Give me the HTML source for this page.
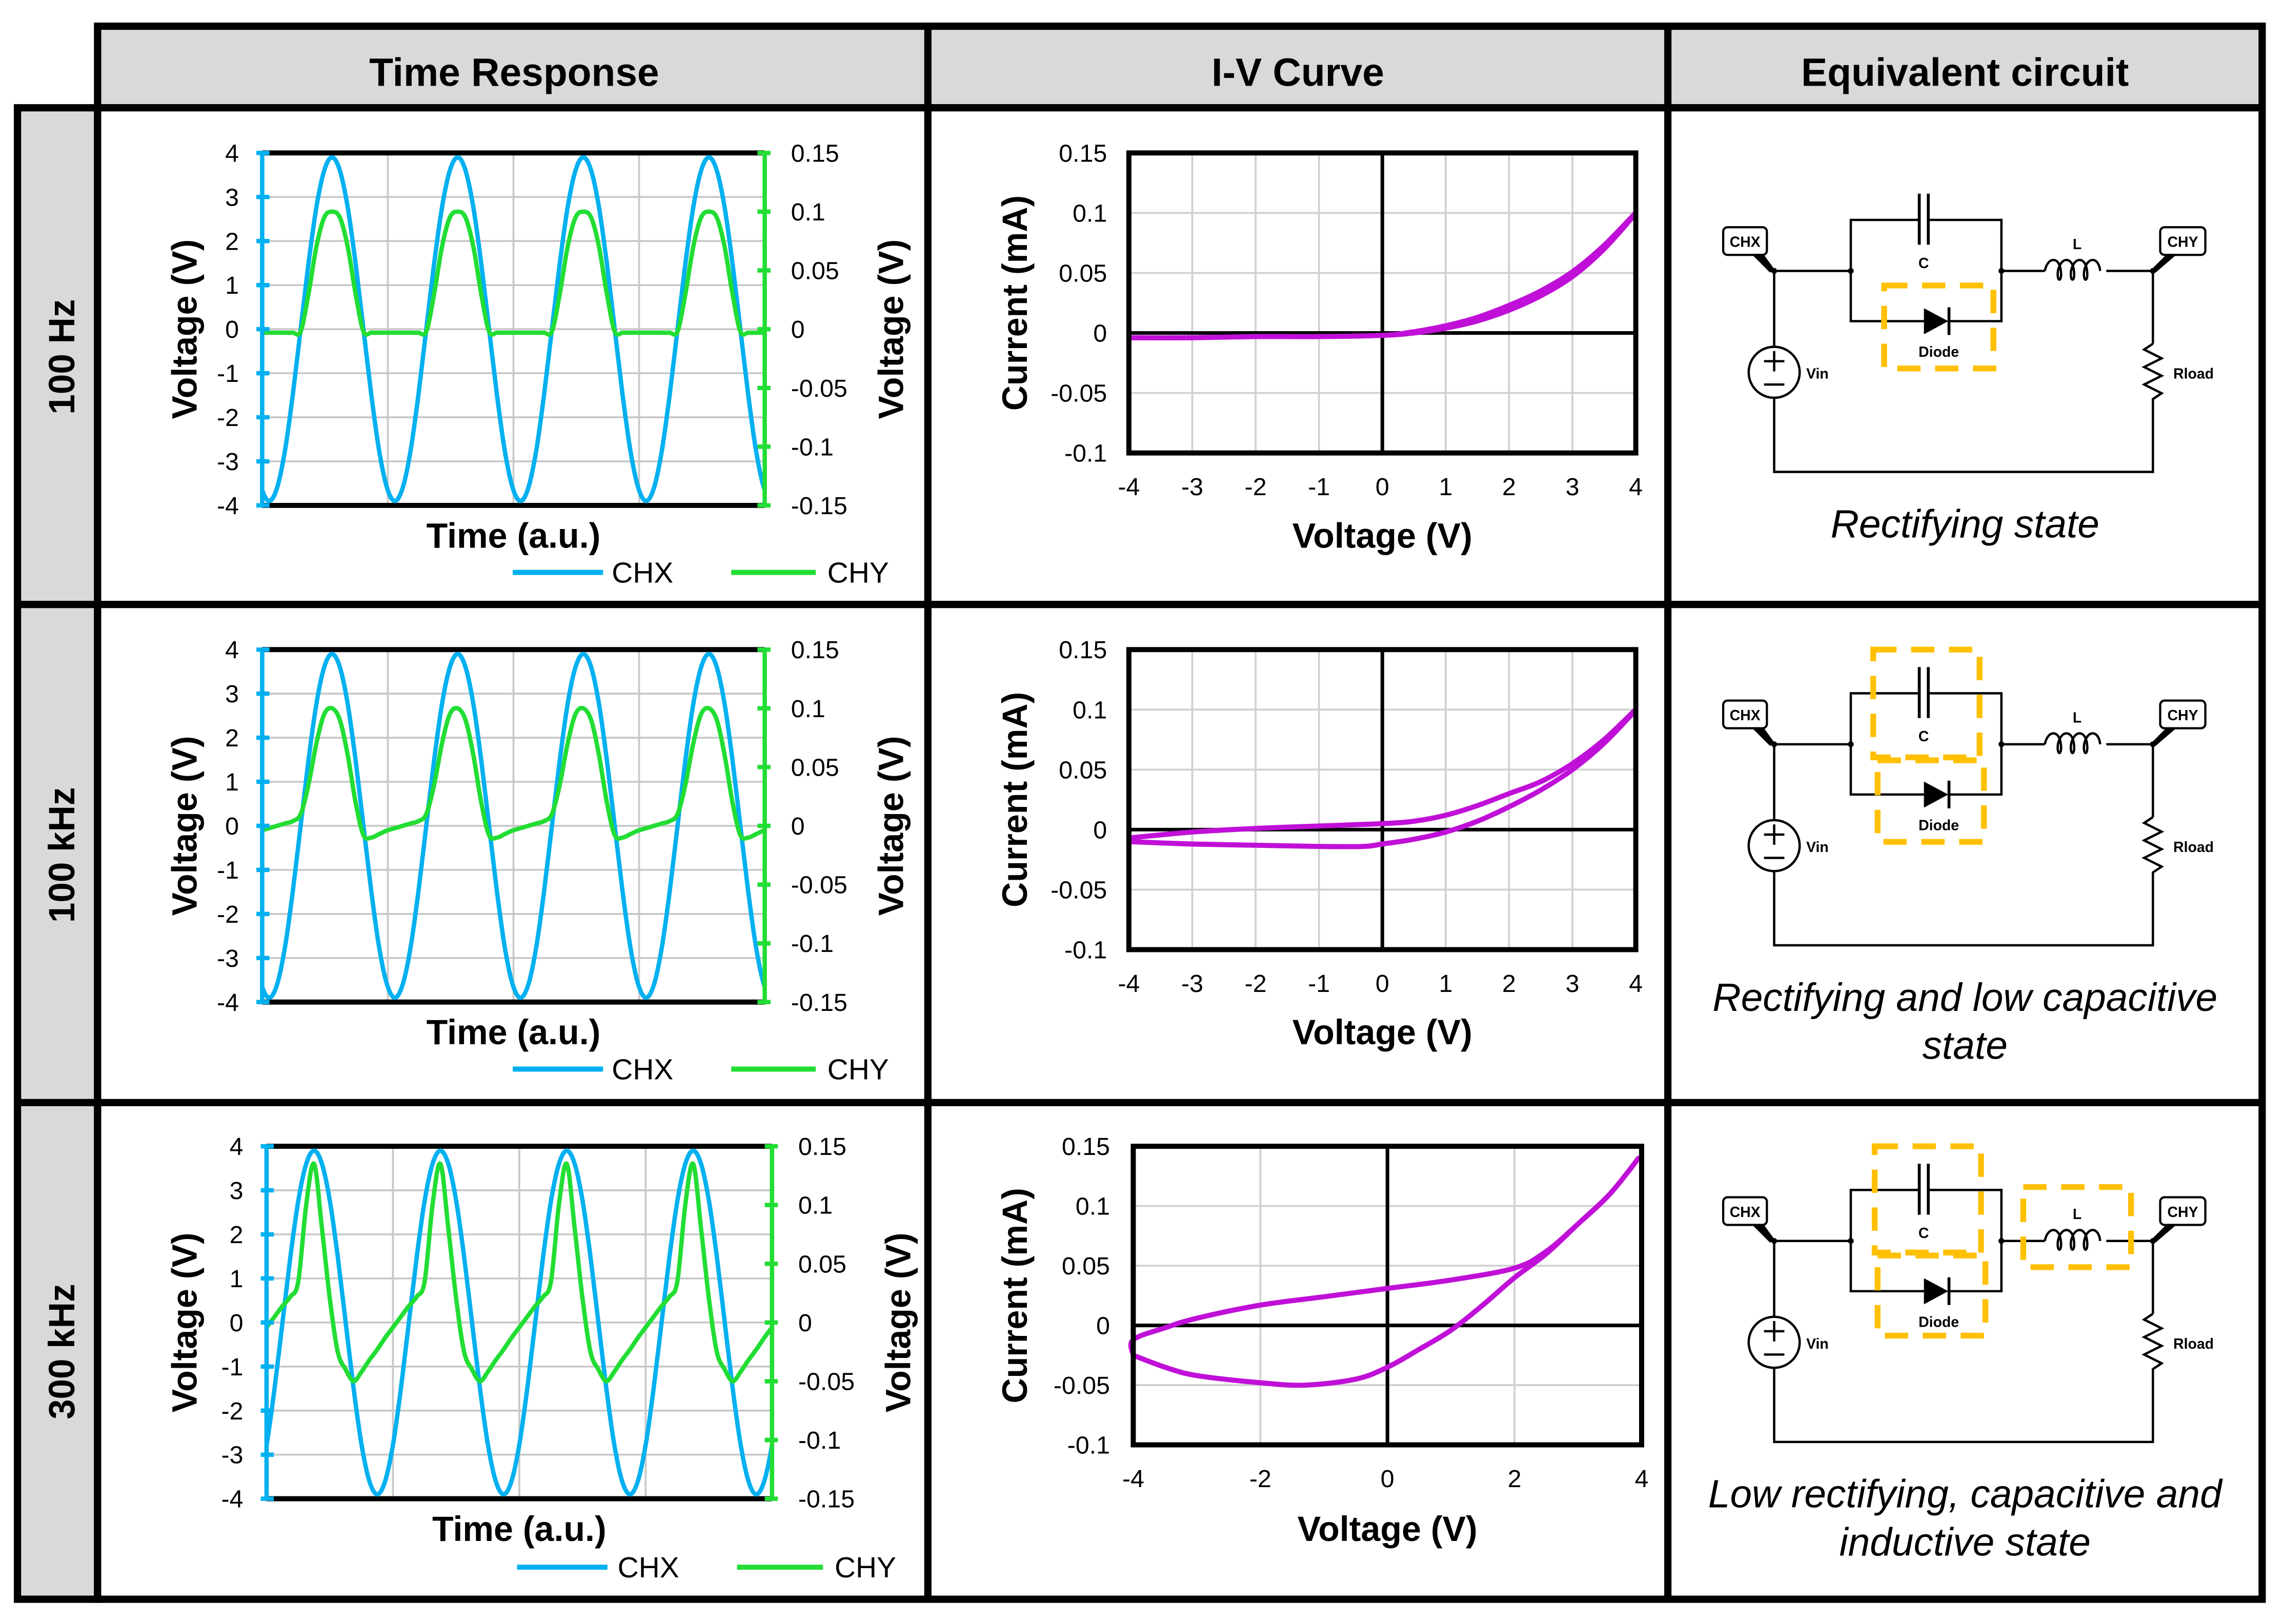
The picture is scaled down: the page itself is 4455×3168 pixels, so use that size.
<!DOCTYPE html>
<html><head><meta charset="utf-8"><style>
html,body{margin:0;padding:0;background:#fff;}
svg{display:block;}
text{font-family:"Liberation Sans",Arial,sans-serif;}
</style></head><body>
<svg id="root" xmlns="http://www.w3.org/2000/svg" width="4455" height="3168" viewBox="0 0 1568 1115" preserveAspectRatio="none">
<rect x="0" y="0" width="1568" height="1115" fill="#fff"/>
<g>
<rect x="67" y="18" width="1486" height="56" fill="#d9d9d9" stroke="#000" stroke-width="5"/>
<rect x="12" y="74" width="55" height="1024" fill="#d9d9d9" stroke="#000" stroke-width="5"/>
<rect x="67" y="74" width="1486" height="1024" fill="#fff" stroke="#000" stroke-width="5"/>
<line x1="637" y1="18" x2="637" y2="1098" stroke="#000" stroke-width="5"/>
<line x1="1145" y1="18" x2="1145" y2="1098" stroke="#000" stroke-width="5"/>
<line x1="12" y1="415" x2="1553" y2="415" stroke="#000" stroke-width="5"/>
<line x1="12" y1="757" x2="1553" y2="757" stroke="#000" stroke-width="5"/>
</g>
<g font-weight="bold" font-size="27" text-anchor="middle">
<text x="353" y="59">Time Response</text>
<text x="891" y="59">I-V Curve</text>
<text x="1349" y="59">Equivalent circuit</text>
<text transform="translate(51,245) rotate(-90)" font-size="25">100 Hz</text>
<text transform="translate(51,587) rotate(-90)" font-size="25">100 kHz</text>
<text transform="translate(51,928) rotate(-90)" font-size="25">300 kHz</text>
</g>
<g id="charts"></g>
<g id="circ">
<g fill="none" stroke="#000" stroke-width="1.6">
<polyline points="1218,186 1270.6,186"/>
<polyline points="1270.6,186 1270.6,151 1317.6,151"/>
<polyline points="1323.8,151 1374,151 1374,186"/>
<polyline points="1270.6,186 1270.6,220.5 1320.8,220.5"/>
<polyline points="1338,220.5 1374,220.5 1374,186 1403.8,186"/>
<path d="M1403.8,186 c2,-10 10,-10 11,0 c1,8 -3,8 -2,0 c2,-10 10,-10 11,0 c1,8 -3,8 -2,0 c2,-10 10,-10 11,0 c1,8 -3,8 -2,0 c2,-10 10,-10 11,0"/>
<polyline points="1446,186 1478,186 1478,236"/>
<polyline points="1478,236 1472,240 1484,246 1472,252 1484,258 1472,264 1484,270 1478,274 1478,324 1218,324 1218,273"/>
<line x1="1218" y1="186" x2="1218" y2="238"/>
<circle cx="1218" cy="255.6" r="17.5"/>
<line x1="1211" y1="248" x2="1225" y2="248"/>
<line x1="1218" y1="241" x2="1218" y2="255"/>
<line x1="1211" y1="264" x2="1225" y2="264"/>
<line x1="1317.6" y1="133" x2="1317.6" y2="168" stroke-width="2"/>
<line x1="1323.8" y1="133" x2="1323.8" y2="168" stroke-width="2"/>
<line x1="1338" y1="211" x2="1338" y2="230" stroke-width="2"/>
<rect x="1183" y="156" width="30" height="19" rx="3" stroke-width="1.5"/>
<rect x="1483" y="156" width="31" height="19" rx="3" stroke-width="1.5"/>
</g>
<polygon points="1320.8,211.6 1337.5,220.5 1320.8,229.5" fill="#000"/>
<polygon points="1203,175 1211,175 1219,186 1215,187" fill="#000"/>
<polygon points="1487,175 1494,175 1480,187 1477,185" fill="#000"/>
<g fill="#000"><circle cx="1218" cy="186" r="2"/><circle cx="1270.6" cy="186" r="2"/><circle cx="1374" cy="186" r="2"/><circle cx="1478" cy="186" r="2"/></g>
<g font-weight="bold" font-size="10" fill="#000">
<text x="1198" y="169.5" text-anchor="middle">CHX</text>
<text x="1498.5" y="169.5" text-anchor="middle">CHY</text>
<text x="1320.6" y="184" text-anchor="middle">C</text>
<text x="1426" y="171" text-anchor="middle">L</text>
<text x="1331" y="245" text-anchor="middle">Diode</text>
<text x="1240" y="260">Vin</text>
<text x="1492" y="260">Rload</text>
</g>
</g>
<g fill="none" stroke="#ffc000" stroke-width="4" stroke-dasharray="16,10">
<rect x="1293.5" y="196" width="75" height="57"/>
<rect x="1286" y="446" width="73" height="74"/>
<rect x="1289" y="522" width="73" height="56"/>
<rect x="1287" y="787" width="73" height="73"/>
<rect x="1289" y="862" width="74" height="55"/>
<rect x="1389" y="815" width="74" height="55"/>
</g>
<g font-style="italic" font-size="27" text-anchor="middle">
<text x="1349" y="369">Rectifying state</text>
<text x="1349" y="694">Rectifying and low capacitive</text>
<text x="1349" y="727">state</text>
<text x="1349" y="1035">Low rectifying, capacitive and</text>
<text x="1349" y="1068">inductive state</text>
</g>
</svg>
<script>
// ---- time response data: one period (16 phases, starting at CHX trough) ----
const chxPeriod = [-3.9,-3.6,-2.76,-1.49,0,1.49,2.76,3.6,3.9,3.6,2.76,1.49,0,-1.49,-2.76,-3.6];
const chy1Period = [-0.003,-0.003,-0.003,-0.003,-0.002,0.03,0.07,0.095,0.1,0.095,0.07,0.03,-0.002,-0.003,-0.003,-0.003];
const chy2Period = [-0.002,0.0,0.002,0.004,0.01,0.035,0.07,0.095,0.1,0.09,0.06,0.02,-0.008,-0.01,-0.007,-0.004];
const chy3Period = [-0.023,-0.013,-0.004,0.005,0.014,0.022,0.035,0.1,0.135,0.08,0.02,-0.025,-0.04,-0.05,-0.042,-0.032];
const timeStarts = [-0.944, -0.944, -0.124];
const periodCount = 4;
const leftTicks = [4,3,2,1,0,-1,-2,-3,-4];
const rightTicks = ["0.15","0.1","0.05","0","-0.05","-0.1","-0.15"];
const rightTickVals = [0.15,0.1,0.05,0,-0.05,-0.1,-0.15];
// ---- IV data ----
const iv1V = [-4,-3,-2,-1,0,0.5,1,1.5,2,2.5,3,3.5,4,3.5,3,2.5,2,1.5,1,0.5,0,-1,-2,-3,-4];
const iv1I = [-0.004,-0.004,-0.003,-0.003,-0.002,0,0.004,0.01,0.019,0.031,0.047,0.07,0.1,0.073,0.051,0.035,0.023,0.013,0.006,0.001,-0.002,-0.003,-0.003,-0.004,-0.004];
const iv2V = [-4,-3,-2,-1,-0.3,0,0.5,1,1.5,2,2.5,3,3.5,4,3.5,3,2.5,2,1.5,1,0.5,0,-1,-2,-3,-4];
const iv2I = [-0.01,-0.012,-0.013,-0.014,-0.014,-0.012,-0.008,-0.002,0.007,0.019,0.033,0.05,0.072,0.1,0.075,0.055,0.04,0.03,0.02,0.012,0.007,0.005,0.003,0.001,-0.002,-0.007];
const iv3V = [-4,-3.5,-3,-2,-1.3,-0.5,0,0.5,1,1.5,2,2.5,3,3.5,3.95,3.5,3,2.5,2,1,0,-1,-2,-3,-3.5,-4,-4];
const iv3I = [-0.025,-0.035,-0.042,-0.048,-0.05,-0.045,-0.035,-0.02,-0.004,0.017,0.04,0.06,0.085,0.11,0.14,0.11,0.085,0.062,0.048,0.038,0.031,0.024,0.017,0.006,-0.002,-0.012,-0.025];
const ivXTicks12 = [-4,-3,-2,-1,0,1,2,3,4];
const ivXTicks3 = [-4,-2,0,2,4];
const ivYTicks = [0.15,0.1,0.05,0,-0.05,-0.1];
const ivYLabels = ["0.15","0.1","0.05","0","-0.05","-0.1"];

const NS = "http://www.w3.org/2000/svg";
const root = document.getElementById('charts');
function mk(tag, attrs, parent){const e=document.createElementNS(NS,tag);for(const k in attrs)e.setAttribute(k,attrs[k]);(parent||root).appendChild(e);return e;}
function named(el,n){
  
  
  return el;}
function smooth(p){let d='M'+p[0][0].toFixed(2)+','+p[0][1].toFixed(2);
  for(let i=0;i<p.length-1;i++){const a=p[i-1]||p[i],b=p[i],c=p[i+1],e=p[i+2]||c;
    d+=' C'+(b[0]+(c[0]-a[0])/6).toFixed(2)+','+(b[1]+(c[1]-a[1])/6).toFixed(2)+' '+(c[0]-(e[0]-b[0])/6).toFixed(2)+','+(c[1]-(e[1]-b[1])/6).toFixed(2)+' '+c[0].toFixed(2)+','+c[1].toFixed(2);}
  return d;}
function txt(x,y,s,attrs,name){const t=mk('text',Object.assign({x:x,y:y},attrs||{}));t.textContent=s;named(t,name);return t;}

const BLUE='#00b0f0', GREEN='#22dd33';
const timeCfg=[
 {x0:180,x1:525,y0:105,y1:347,lx:164,rx:543,yl:127,yr:612,tl:376,legY:393,lg:[352,414,420,502,560,568],chy:chy1Period},
 {x0:180,x1:525,y0:446,y1:688,lx:164,rx:543,yl:127,yr:612,tl:717,legY:734,lg:[352,414,420,502,560,568],chy:chy2Period},
 {x0:183,x1:530,y0:787,y1:1029,lx:167,rx:548,yl:127,yr:617,tl:1058,legY:1076,lg:[355,417,424,506,565,573],chy:chy3Period}];
timeCfg.forEach((c,ri)=>{
  const g=named(mk('g',{}),'time-response-chart-row'+(ri+1));
  const xs=t=>c.x0+(t/periodCount)*(c.x1-c.x0);
  const yl=v=>c.y0+(4-v)/8*(c.y1-c.y0);
  const yr=v=>c.y0+(0.15-v)/0.3*(c.y1-c.y0);
  for(let k=1;k<periodCount;k++){named(mk('line',{x1:xs(k),x2:xs(k),y1:c.y0,y2:c.y1,stroke:'#c8c8c8','stroke-width':1.3},g),'v-gridline');}
  leftTicks.forEach(v=>{if(v!==4&&v!==-4)named(mk('line',{x1:c.x0,x2:c.x1,y1:yl(v),y2:yl(v),stroke:'#c8c8c8','stroke-width':1.3},g),'h-gridline');});
  named(mk('line',{x1:c.x0,x2:c.x1,y1:c.y0,y2:c.y0,stroke:'#000','stroke-width':3.5},g),'plot-top-border');
  named(mk('line',{x1:c.x0,x2:c.x1,y1:c.y1,y2:c.y1,stroke:'#000','stroke-width':3.5},g),'plot-bottom-border');
  const cid='clip'+ri; const cp=mk('clipPath',{id:cid},g); mk('rect',{x:c.x0,y:c.y0-6,width:c.x1-c.x0,height:c.y1-c.y0+12},cp);
  const st=timeStarts[ri]; const n=periodCount+2; const px=[],py=[];
  for(let k=0;k<=n*16;k++){const t=st+k/16;px.push([xs(t),yl(chxPeriod[k%16])]);py.push([xs(t),yr(c.chy[k%16])]);}
  named(mk('path',{d:smooth(px),fill:'none',stroke:BLUE,'stroke-width':3,'clip-path':'url(#'+cid+')'},g),'chx-series');
  named(mk('path',{d:smooth(py),fill:'none',stroke:GREEN,'stroke-width':3,'clip-path':'url(#'+cid+')'},g),'chy-series');
  named(mk('line',{x1:c.x0,x2:c.x0,y1:c.y0,y2:c.y1,stroke:BLUE,'stroke-width':3},g),'left-y-axis');
  named(mk('line',{x1:c.x1,x2:c.x1,y1:c.y0,y2:c.y1,stroke:GREEN,'stroke-width':3},g),'right-y-axis');
  leftTicks.forEach(v=>{named(mk('line',{x1:c.x0-4,x2:c.x0+5,y1:yl(v),y2:yl(v),stroke:BLUE,'stroke-width':3},g),'left-tick');
    txt(c.lx,yl(v)+6,String(v),{'font-size':17,'text-anchor':'end'},'left-tick-label');});
  rightTickVals.forEach((v,i)=>{named(mk('line',{x1:c.x1-5,x2:c.x1+4,y1:yr(v),y2:yr(v),stroke:GREEN,'stroke-width':3},g),'right-tick');
    txt(c.rx,yr(v)+6,rightTicks[i],{'font-size':17},'right-tick-label');});
  const cy=(c.y0+c.y1)/2;
  txt(0,0,'Voltage (V)',{'font-size':24,'font-weight':'bold','text-anchor':'middle',transform:'translate('+(c.yl+8)+','+cy+') rotate(-90)'},'left-y-axis-title');
  txt(0,0,'Voltage (V)',{'font-size':24,'font-weight':'bold','text-anchor':'middle',transform:'translate('+(c.yr+8)+','+cy+') rotate(-90)'},'right-y-axis-title');
  txt((c.x0+c.x1)/2,c.tl,'Time (a.u.)',{'font-size':24,'font-weight':'bold','text-anchor':'middle'},'x-axis-title');
  named(mk('line',{x1:c.lg[0],x2:c.lg[1],y1:c.legY,y2:c.legY,stroke:BLUE,'stroke-width':3.5},g),'legend-chx-swatch');
  txt(c.lg[2],c.legY+7,'CHX',{'font-size':20},'legend-chx-label');
  named(mk('line',{x1:c.lg[3],x2:c.lg[4],y1:c.legY,y2:c.legY,stroke:GREEN,'stroke-width':3.5},g),'legend-chy-swatch');
  txt(c.lg[5],c.legY+7,'CHY',{'font-size':20},'legend-chy-label');
});

const ivCfg=[
 {x0:775,x1:1123,y0:105,y1:311,xt:ivXTicks12,gx:ivXTicks12,V:iv1V,I:iv1I,lbx:760,xly:340,cx:697,vly:376},
 {x0:775,x1:1123,y0:446,y1:652,xt:ivXTicks12,gx:ivXTicks12,V:iv2V,I:iv2I,lbx:760,xly:681,cx:697,vly:717},
 {x0:778,x1:1127,y0:787,y1:992,xt:ivXTicks3,gx:ivXTicks3,V:iv3V,I:iv3I,lbx:762,xly:1021,cx:697,vly:1058}];
ivCfg.forEach((c,ri)=>{
  const g=named(mk('g',{}),'iv-curve-chart-row'+(ri+1));
  const xs=v=>c.x0+(v+4)/8*(c.x1-c.x0);
  const ys=v=>c.y0+(0.15-v)/0.25*(c.y1-c.y0);
  c.gx.forEach(v=>{if(v!==-4&&v!==4&&v!==0)named(mk('line',{x1:xs(v),x2:xs(v),y1:c.y0,y2:c.y1,stroke:'#d0d0d0','stroke-width':1.3},g),'v-gridline');});
  ivYTicks.forEach(v=>{if(v!==0.15&&v!==-0.1&&v!==0)named(mk('line',{x1:c.x0,x2:c.x1,y1:ys(v),y2:ys(v),stroke:'#d0d0d0','stroke-width':1.3},g),'h-gridline');});
  named(mk('line',{x1:xs(0),x2:xs(0),y1:c.y0,y2:c.y1,stroke:'#000','stroke-width':2.5},g),'zero-voltage-axis');
  named(mk('line',{x1:c.x0,x2:c.x1,y1:ys(0),y2:ys(0),stroke:'#000','stroke-width':2.5},g),'zero-current-axis');
  const pts=c.V.map((v,i)=>[xs(v),ys(c.I[i])]);
  named(mk('path',{d:smooth(pts),fill:'none',stroke:'#c010d8','stroke-width':3.5,'stroke-linejoin':'round'},g),'iv-series');
  named(mk('rect',{x:c.x0,y:c.y0,width:c.x1-c.x0,height:c.y1-c.y0,fill:'none',stroke:'#000','stroke-width':3.5},g),'plot-border');
  c.xt.forEach(v=>txt(xs(v),c.xly,String(v),{'font-size':17,'text-anchor':'middle'},'x-tick-label'));
  ivYTicks.forEach((v,i)=>txt(c.lbx,ys(v)+6,ivYLabels[i],{'font-size':17,'text-anchor':'end'},'y-tick-label'));
  txt(0,0,'Current (mA)',{'font-size':24,'font-weight':'bold','text-anchor':'middle',transform:'translate('+(c.cx+8)+','+((c.y0+c.y1)/2)+') rotate(-90)'},'y-axis-title');
  txt(xs(0),c.vly,'Voltage (V)',{'font-size':24,'font-weight':'bold','text-anchor':'middle'},'x-axis-title');
});

// clone circuit for rows 2 and 3
const circ=document.getElementById('circ');
[325,666].forEach((dy,i)=>{const cl=circ.cloneNode(true);cl.removeAttribute('id');cl.setAttribute('transform','translate(0,'+dy+')');
  
  circ.parentNode.insertBefore(cl,circ.nextSibling);});
</script>
</body></html>
